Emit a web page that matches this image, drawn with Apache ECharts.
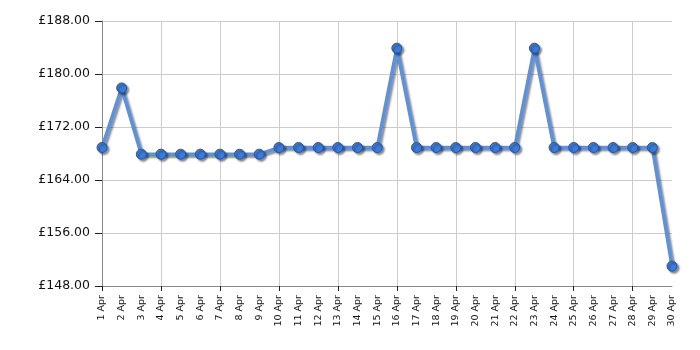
<!DOCTYPE html>
<html><head><meta charset="utf-8">
<script src="https://cdn.jsdelivr.net/npm/echarts@6/dist/echarts.min.js"></script>
<style>html,body{margin:0;padding:0;background:#fff}#c{width:700px;height:350px}</style>
</head><body><div id="c"></div>
<script>
const categories = ["1 Apr","2 Apr","3 Apr","4 Apr","5 Apr","6 Apr","7 Apr","8 Apr","9 Apr","10 Apr","11 Apr","12 Apr","13 Apr","14 Apr","15 Apr","16 Apr","17 Apr","18 Apr","19 Apr","20 Apr","21 Apr","22 Apr","23 Apr","24 Apr","25 Apr","26 Apr","27 Apr","28 Apr","29 Apr","30 Apr"];
const prices = [168.9,177.9,167.9,167.9,167.9,167.9,167.9,167.9,167.9,168.9,168.9,168.9,168.9,168.9,168.9,183.9,168.9,168.9,168.9,168.9,168.9,168.9,183.9,168.9,168.9,168.9,168.9,168.9,168.9,151.0];
const yMin = 148, yMax = 188, yStep = 8;

const chart = echarts.init(document.getElementById('c'), null, {renderer:'canvas'});
const every3 = (i) => i % 3 === 0;
chart.setOption({
  animation: false,
  grid: {left: 102, right: 28, top: 21, bottom: 64},
  xAxis: {
    type: 'category', data: categories, boundaryGap: false,
    axisLine: {lineStyle: {color: '#888', width: 1}},
    axisTick: {show: true, interval: every3, length: 5, lineStyle: {color: '#222'}},
    axisLabel: {interval: 0, rotate: 90, fontFamily: 'DejaVu Sans', fontSize: 9.5, color: '#111', margin: 9},
    splitLine: {show: true, interval: every3, lineStyle: {color: '#ccc', width: 1}}
  },
  yAxis: {
    type: 'value', min: yMin, max: yMax, interval: yStep,
    axisLine: {show: true, lineStyle: {color: '#888', width: 1}},
    axisTick: {show: true, length: 7, lineStyle: {color: '#222'}},
    axisLabel: {fontFamily: 'DejaVu Sans', fontSize: 12.5, color: '#111', margin: 12,
      formatter: v => '£' + v.toFixed(2)},
    splitLine: {show: true, lineStyle: {color: '#ccc', width: 1}}
  },
  series: [{
    type: 'line', data: prices,
    symbol: 'circle', symbolSize: 10,
    lineStyle: {color: '#5a92e0', width: 3.5, shadowColor: 'rgba(0,0,0,0.45)', shadowBlur: 2, shadowOffsetX: 2, shadowOffsetY: 2},
    itemStyle: {color: '#3d7bd6', borderColor: '#2456a0', borderWidth: 1, shadowColor: 'rgba(0,0,0,0.45)', shadowBlur: 2, shadowOffsetX: 2, shadowOffsetY: 2}
  }]
});
</script></body></html>
